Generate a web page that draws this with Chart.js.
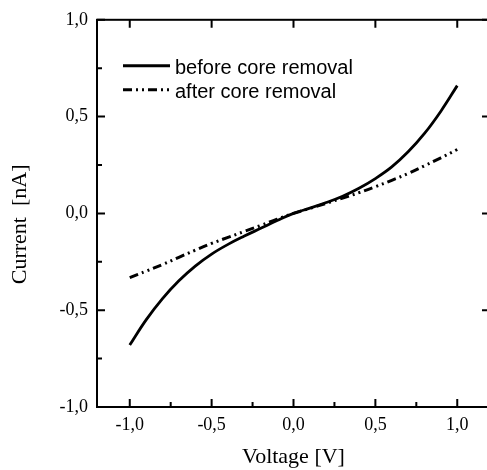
<!DOCTYPE html>
<html>
<head>
<meta charset="utf-8">
<script src="https://cdn.jsdelivr.net/npm/chart.js@4.4.1/dist/chart.umd.min.js"></script>
<style>
  html, body { margin: 0; padding: 0; overflow: hidden; background: #fff; }
</style>
</head>
<body>
<canvas id="iv-curve" width="492" height="470"></canvas>
<script>
// values
const voltage = [-1.0, -0.9, -0.8, -0.7, -0.6, -0.5, -0.4, -0.3, -0.2, -0.1, 0.0,
                 0.1, 0.2, 0.3, 0.4, 0.5, 0.6, 0.7, 0.8, 0.9, 1.0];
const beforeRemoval = [-0.68, -0.55, -0.44, -0.348, -0.272, -0.21, -0.16, -0.117, -0.077, -0.037, 0.0,
                       0.027, 0.056, 0.089, 0.13, 0.18, 0.24, 0.318, 0.413, 0.528, 0.66];
const afterRemoval = [-0.332, -0.298, -0.264, -0.227, -0.19, -0.155, -0.124, -0.093, -0.062, -0.03, 0.0,
                      0.026, 0.052, 0.079, 0.107, 0.138, 0.171, 0.206, 0.246, 0.287, 0.33];

const xTicks = [-1.0, -0.5, 0.0, 0.5, 1.0];
const yTicks = [-1.0, -0.5, 0.0, 0.5, 1.0];
const xMinor = [-0.75, -0.25, 0.25, 0.75];
const yMinor = [-0.75, -0.25, 0.25, 0.75];

const fmt = v => Number(v).toFixed(1).replace('.', ',');
const serif = 'Liberation Serif';

// frame + inward ticks like the Origin plot
const frameTicks = {
  id: 'frameTicks',
  afterDraw(chart) {
    const { ctx, chartArea: a, scales: { x, y } } = chart;
    ctx.save();
    ctx.strokeStyle = '#000';
    ctx.lineWidth = 2;
    ctx.setLineDash([]);
    ctx.strokeRect(a.left, a.top, a.right - a.left, a.bottom - a.top);
    ctx.beginPath();
    xTicks.forEach(v => {
      const px = x.getPixelForValue(v);
      ctx.moveTo(px, a.bottom); ctx.lineTo(px, a.bottom - 8);
      ctx.moveTo(px, a.top); ctx.lineTo(px, a.top + 8);
    });
    xMinor.forEach(v => {
      const px = x.getPixelForValue(v);
      ctx.moveTo(px, a.bottom); ctx.lineTo(px, a.bottom - 5);
    });
    yTicks.forEach(v => {
      const py = y.getPixelForValue(v);
      ctx.moveTo(a.left, py); ctx.lineTo(a.left + 8, py);
      ctx.moveTo(a.right, py); ctx.lineTo(a.right - 8, py);
    });
    yMinor.forEach(v => {
      const py = y.getPixelForValue(v);
      ctx.moveTo(a.left, py); ctx.lineTo(a.left + 5, py);
    });
    ctx.stroke();
    ctx.restore();
  }
};

// legend inside the plot, top left
const innerLegend = {
  id: 'innerLegend',
  afterDraw(chart) {
    const { ctx, chartArea: a } = chart;
    ctx.save();
    chart.data.datasets.forEach((ds, i) => {
      const y = a.top + 46 + i * 24;
      ctx.strokeStyle = '#000';
      ctx.lineWidth = 3;
      ctx.setLineDash(ds.borderDash || []);
      ctx.beginPath();
      ctx.moveTo(a.left + 26, y);
      ctx.lineTo(a.left + 73, y);
      ctx.stroke();
      ctx.setLineDash([]);
      ctx.fillStyle = '#000';
      ctx.font = '20px "Liberation Sans"';
      ctx.textBaseline = 'alphabetic';
      ctx.fillText(ds.label, a.left + 78, y + 8.5);
    });
    ctx.restore();
  }
};

const ivChart = new Chart(document.getElementById('iv-curve').getContext('2d'), {
  type: 'line',
  data: {
    datasets: [{
      label: 'before core removal',
      data: voltage.map((v, i) => ({ x: v, y: beforeRemoval[i] })),
      borderColor: '#000',
      borderWidth: 2.8,
      pointRadius: 0,
      tension: 0.4,
      fill: false
    },
    {
      label: 'after core removal',
      data: voltage.map((v, i) => ({ x: v, y: afterRemoval[i] })),
      borderColor: '#000',
      borderWidth: 3,
      borderDash: [9, 4, 2, 4, 2, 4],
      pointRadius: 0,
      tension: 0.4,
      fill: false
    }]
  },
  options: {
    responsive: false,
    animation: false,
    layout: { padding: { top: 13, right: 2, left: 0, bottom: 0 } },
    scales: {
      x: {
        type: 'linear',
        min: -1.2,
        max: 1.2,
        afterBuildTicks: s => { s.ticks = xTicks.map(v => ({ value: v })); },
        afterFit: s => { s.height = 63; },
        grid: { display: false, drawTicks: false },
        border: { display: false },
        ticks: {
          color: '#000',
          padding: 7,
          font: { family: serif, size: 18 },
          callback: v => fmt(v)
        },
        title: {
          display: true,
          text: 'Voltage [V]',
          color: '#000',
          font: { family: serif, size: 22 },
          padding: { top: 0, bottom: 0 }
        }
      },
      y: {
        min: -1,
        max: 1,
        afterBuildTicks: s => { s.ticks = yTicks.map(v => ({ value: v })); },
        afterFit: s => { s.width = 97; },
        grid: { display: false, drawTicks: false },
        border: { display: false },
        ticks: {
          color: '#000',
          padding: 9,
          font: { family: serif, size: 18 },
          callback: v => fmt(v)
        },
        title: {
          display: true,
          text: 'Current  [nA]    ',
          color: '#000',
          font: { family: serif, size: 22 },
          padding: { top: 7, bottom: 0 }
        }
      }
    },
    plugins: {
      legend: { display: false },
      tooltip: { enabled: false }
    }
  },
  plugins: [frameTicks, innerLegend]
});
</script>
</body>
</html>
